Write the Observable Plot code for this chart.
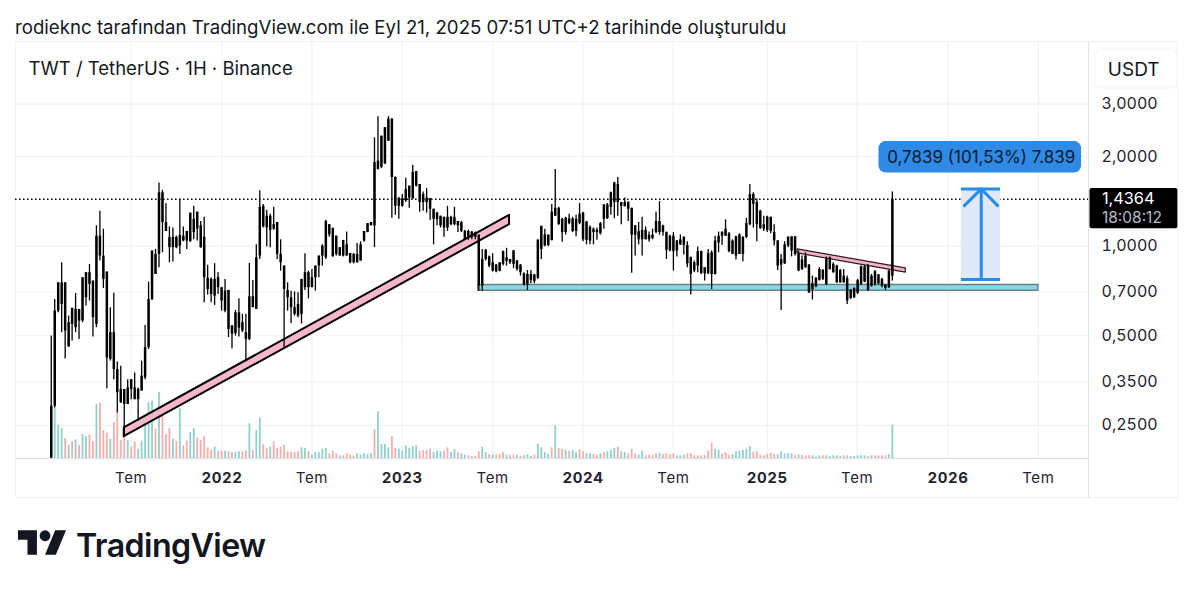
<!DOCTYPE html>
<html lang="tr">
<head>
<meta charset="utf-8">
<title>TWT / TetherUS</title>
<script src="https://cdn.jsdelivr.net/npm/d3@7"></script>
<script src="https://cdn.jsdelivr.net/npm/@observablehq/plot@0.6"></script>
<style>
  html,body{margin:0;padding:0;background:#fff;width:1200px;height:592px;overflow:hidden;font-family:Inter,"Noto Sans",sans-serif;}
  #title{height:41px;box-sizing:border-box;padding:16px 0 0 15px;font-size:18.67px;line-height:24px;color:#131722;white-space:nowrap;}
  #chart{position:relative;width:1200px;height:457px;}
  #chart svg{position:absolute;left:0;top:0;}
  #box{position:absolute;left:15px;top:0;width:1163px;height:457px;box-sizing:border-box;border:1px solid #f0f3fa;}
  #divider{position:absolute;left:1088px;top:0;width:1px;height:457px;background:#e0e3eb;}
  #logo{position:relative;height:94px;}
  #logo svg{position:absolute;left:18px;top:32px;}
  #logo span{position:absolute;left:76px;top:27px;font-size:32.2px;line-height:42px;font-weight:600;letter-spacing:-0.6px;color:#131722;}
  #chart svg [aria-label="x-axis tick label"] text{letter-spacing:.6px;}
  #chart svg text.clock{letter-spacing:.6px;}
</style>
</head>
<body>
<div id="title">rodieknc tarafından TradingView.com ile Eyl 21, 2025 07:51 UTC+2 tarihinde oluşturuldu</div>
<div id="chart"><div id="box"></div><div id="divider"></div></div>
<div id="logo">
  <svg width="48" height="25" viewBox="0 4 35.5 18" fill="#131722"><path d="M14 22H7V11H0V4h14v18zM28 22h-8l7.5-18h8L28 22z"/><circle cx="20" cy="8" r="4"/></svg>
  <span>TradingView</span>
</div>
<script>
const highs = [.499,.662,.753,.879,.753,.582,.618,.693,.613,.783,.814,.868,.763,1.17,1.31,1.14,.818,.621,.695,.408,.395,.33,.356,.356,.375,.334,.411,.541,.757,.963,
.975,1.63,1.54,1.39,1.16,1.15,1.08,1.44,1.16,1.12,1.29,1.36,1.30,1.21,1.25,.863,.783,.873,.814,.725,.773,.71,.541,.608,.665,.59,.59,.875,.767,1.01,
1.535,1.38,1.32,1.28,1.35,1.20,1.05,.857,.753,.706,.702,.697,.773,.943,.824,.835,.857,.926,1.01,1.22,1.18,1.15,1.08,.988,1.045,1.115,.945,.945,1.02,1.035,
1.12,1.19,1.20,2.31,2.72,2.34,2.50,2.72,2.68,1.71,1.45,1.49,1.69,1.59,1.87,1.78,1.61,1.52,1.56,1.445,1.33,1.30,1.26,1.25,1.36,1.26,1.35,1.21,1.21,1.13,
1.13,1.12,1.115,1.09,.975,.975,.926,.943,.868,.879,.963,.983,.902,.968,.895,.868,.814,.828,.828,.803,1.05,1.165,1.14,1.09,1.38,1.81,1.35,1.24,1.25,1.28,
1.25,1.27,1.39,1.30,1.21,1.17,1.15,1.15,1.20,1.38,1.39,1.52,1.64,1.70,1.40,1.45,1.41,1.34,1.17,1.20,1.25,1.16,1.115,1.14,1.30,1.41,1.175,1.115,1.088,1.11,
1.045,1.09,1.075,1.035,.92,.891,.993,.963,.846,.975,.963,1.08,1.115,1.12,1.225,1.11,1.05,1.08,1.10,1.075,1.24,1.61,1.51,1.44,1.32,1.26,1.26,1.25,1.18,1.045,
.938,1.035,1.075,1.075,1.075,.963,.926,.95,.868,.793,.783,.846,.835,.92,.92,.879,.863,.835,.835,.793,.715,.725,.773,.857,.86,.868,.803,.828,.803,.78,
.744,.828,1.52];
const lows = [.194,.286,.597,.512,.418,.458,.48,.512,.486,.553,.629,.654,.495,.532,.891,.721,.332,.411,.356,.275,.296,.23,.294,.305,.305,.258,.326,.356,.45,.657,
.803,.846,.95,1.12,.879,.884,.98,.938,1.035,.975,1.03,1.05,1.04,.983,.645,.685,.645,.632,.688,.605,.597,.493,.452,.499,.495,.512,.409,.482,.621,.613,
.902,1.15,.995,.988,1.13,.902,.824,.456,.605,.55,.582,.575,.548,.71,.665,.725,.706,.783,.857,.902,1.07,.92,.926,.926,.92,.926,.872,.872,.877,.891,
1.03,1.11,1.17,.988,1.80,1.82,1.88,2.25,1.24,1.27,1.23,1.35,1.40,1.34,1.44,1.58,1.30,1.31,1.29,1.22,1.01,1.17,1.15,1.07,1.12,1.17,1.17,1.11,1.11,1.047,
1.047,1.05,1.05,.706,.706,.891,.846,.818,.814,.82,.857,.857,.868,.84,.824,.793,.734,.71,.747,.747,.773,.902,.995,.995,1.04,1.26,1.175,1.03,1.09,1.18,
1.11,1.075,1.18,1.035,1.01,1.01,1.01,1.047,1.09,1.14,1.23,1.27,1.235,1.26,1.18,1.355,1.21,.81,.926,1.01,.926,1.05,1.03,1.05,1.10,1.088,1.08,.902,.958,.824,
.92,1.005,.933,.846,.685,.814,.814,.803,.763,.803,.715,.8,.95,1.005,1.08,.95,.938,.898,.938,.886,1.06,1.17,1.15,1.035,1.14,1.12,1.11,1.10,1.0,.828,
.608,.868,.988,.92,.926,.82,.828,.842,.693,.659,.725,.763,.767,.738,.83,.81,.75,.75,.75,.637,.662,.667,.688,.738,.753,.706,.728,.734,.74,.725,
.71,.721,.763];
const bodyTops = [.29,.605,.753,.753,.753,.553,.618,.613,.613,.783,.814,.814,.763,1.08,1.08,.926,.818,.512,.512,.385,.33,.33,.334,.356,.334,.33,.366,.456,.662,.963,
.938,1.51,1.51,1.20,1.07,1.07,1.07,1.085,1.08,1.12,1.29,1.23,1.30,1.17,1.07,.78,.773,.773,.783,.725,.706,.71,.539,.597,.597,.553,.512,.676,.676,.914,
1.35,1.36,1.26,1.26,1.18,1.20,.938,.857,.71,.671,.621,.637,.773,.814,.814,.783,.857,.926,1.0,1.21,1.18,1.145,1.08,.988,1.045,1.01,.945,.938,.938,1.01,
1.12,1.19,1.20,1.91,1.93,2.34,2.50,2.67,2.67,1.70,1.45,1.44,1.55,1.59,1.77,1.78,1.61,1.49,1.45,1.445,1.33,1.29,1.26,1.25,1.25,1.25,1.25,1.21,1.20,1.12,
1.12,1.115,1.11,1.088,.902,.968,.92,.879,.863,.879,.958,.914,.902,.963,.891,.863,.807,.803,.803,.8,1.047,1.165,1.09,1.088,1.30,1.34,1.34,1.23,1.24,1.235,
1.235,1.23,1.28,1.29,1.205,1.155,1.14,1.13,1.19,1.375,1.375,1.51,1.63,1.61,1.40,1.40,1.40,1.34,1.17,1.12,1.13,1.13,1.088,1.088,1.21,1.21,1.17,1.11,1.08,1.08,
1.04,1.05,1.07,1.005,.914,.879,.958,.958,.846,.943,.95,1.04,1.08,1.11,1.14,1.10,1.04,1.075,1.09,1.07,1.19,1.49,1.49,1.40,1.31,1.18,1.25,1.25,1.11,1.04,
.902,1.01,1.07,1.075,1.075,.938,.898,.926,.863,.747,.78,.835,.828,.902,.914,.868,.857,.828,.793,.777,.71,.72,.767,.852,.852,.857,.793,.82,.8,.773,
.738,.824,1.4364];
const bodyBottoms = [.194,.29,.605,.637,.519,.458,.546,.532,.56,.56,.671,.744,.575,.546,.926,.773,.421,.416,.385,.322,.298,.294,.294,.33,.305,.305,.326,.361,.456,.662,
.803,.938,1.20,1.12,.988,.988,.988,1.0,1.04,1.04,1.035,1.11,1.14,.988,.783,.715,.688,.679,.725,.654,.605,.525,.506,.508,.53,.519,.486,.486,.621,.613,
.926,1.16,1.15,1.13,1.14,.938,.879,.715,.671,.621,.59,.582,.59,.725,.725,.725,.783,.857,.926,.914,1.09,.92,.938,.926,.926,.926,.879,.879,.879,.891,
1.04,1.11,1.17,1.17,1.81,1.84,1.89,2.25,1.70,1.36,1.36,1.36,1.42,1.45,1.44,1.59,1.40,1.40,1.40,1.33,1.23,1.23,1.17,1.15,1.15,1.18,1.18,1.17,1.12,1.05,
1.07,1.07,1.07,.734,.734,.902,.857,.824,.82,.824,.868,.887,.879,.868,.835,.814,.74,.74,.767,.76,.78,.975,1.0,1.005,1.045,1.26,1.18,1.11,1.11,1.19,
1.12,1.12,1.19,1.05,1.045,1.04,1.11,1.11,1.10,1.23,1.235,1.35,1.40,1.40,1.36,1.355,1.33,1.088,1.088,1.05,1.05,1.05,1.05,1.06,1.11,1.11,1.11,.968,.963,.958,
.963,1.01,1.005,.872,.803,.824,.857,.807,.807,.807,.803,.803,1.025,1.08,1.08,.958,.938,.926,.938,.938,1.07,1.18,1.38,1.18,1.145,1.14,1.13,1.12,1.04,.857,
.863,.872,1.0,.963,.938,.824,.835,.846,.697,.715,.73,.767,.773,.744,.835,.814,.753,.753,.753,.654,.667,.671,.693,.744,.757,.71,.734,.744,.747,.734,
.721,.725,.793];
const volumes = [79,76,50,45,30,20,25,28,20,36,33,35,25,81,83,42,38,29,54,69,27,36,27,17,25,14,26,56,84,86,
44,99,64,36,45,29,26,75,19,26,39,45,31,27,33,16,12,17,11,11,11,10,9,9,10,10,12,52,12,42,
61,21,15,17,25,15,17,20,10,9,9,10,16,15,10,5,9,9,14,15,7,11,7,4,4,7,5,4,7,5,
7,6,7,43,70,21,21,16,33,15,14,11,19,15,18,19,11,12,12,14,9,11,10,11,16,9,13,9,7,5,
4,3,3,10,17,9,6,5,5,6,9,5,5,5,5,3,4,6,3,5,21,16,9,6,16,49,15,14,12,11,
12,9,13,10,7,7,6,5,7,9,10,12,15,17,10,9,7,14,7,5,11,4,5,5,7,8,6,7,6,7,
4,4,5,7,7,4,4,4,4,11,23,14,12,7,9,5,6,10,11,12,14,18,10,10,5,4,6,8,6,6,
10,7,7,7,5,5,5,4,4,4,2,4,4,4,3,4,4,3,4,4,3,3,4,4,4,3,4,4,4,4,
4,6,50];
const volumeSides = "ttttptptpt"+"tpptppptpp"+"pptppttttt"+"ptppptptpp"+"ttppppptpp"+"tppttpptpt"+"tpptpppppp"+"ppttpttttt"+"ppptpppptt"+"tttpttttpp"+
"ttttttpppp"+"tttppttptt"+"ppppttptpp"+"ptpptptttp"+"ttttptpptp"+"ttppttpptp"+"tttpttpppt"+"tpppptpppp"+"tttppppptp"+"pttppptttt"+
"ttpppppppt"+"ttttptpppt"+"ttpttttptp"+"tttttptppp"+"ptt";

const firstWeek = new Date(Date.UTC(2021,0,25));
const xDomain = [new Date("2020-11-14"), new Date("2026-10-15")];
const yDomain = [0.1935, 4.866];
const volumePaneTop = 0.324, volumeMax = 100;

const priceTicks = [3,2,1,0.7,0.5,0.35,0.25];
const yearTicks = ["2022-01-04","2023-01-02","2024-01-01","2025-01-06","2026-01-05"].map(d=>new Date(d));
const monthTicks = ["2021-07-05","2022-07-04","2023-07-03","2024-07-01","2025-07-06","2026-07-06"].map(d=>new Date(d));

const lastPrice = 1.4364;
const risingBand = [{x:new Date("2021-06-21"),y1:.229,y2:.245},{x:new Date("2023-08-06"),y1:1.18,y2:1.268}];
const fallingBand = [{x:new Date("2025-03-08"),y1:.945,y2:.975},{x:new Date("2025-10-12"),y1:.815,y2:.842}];
const supportZone = [{x1:new Date("2023-06-04"),x2:new Date("2026-07-06"),y1:.708,y2:.7404}];
const measureStart = new Date("2026-02-01"), measureEnd = new Date("2026-04-21"), measureMid = new Date("2026-03-13");
const measureLow = 0.7721, measureHigh = 1.556;

const candles = highs.map((h,i)=>({
  date:d3.utcDay.offset(firstWeek,7*i), high:h, low:lows[i], top:bodyTops[i], bottom:bodyBottoms[i],
  volume:volumes[i], up:volumeSides[i]==="t"
}));
const volumeY = v => yDomain[0]*Math.pow(volumePaneTop/yDomain[0], v/volumeMax);
const comma = d => d.toFixed(4).replace(".",",");
const font = "Inter, sans-serif";

const chart = Plot.plot({
  width:1200,height:457,marginTop:0,marginBottom:40,marginLeft:15,marginRight:112,
  style:{background:"transparent",fontFamily:font,overflow:"visible"},
  x:{type:"utc",domain:xDomain,axis:null},
  y:{type:"log",domain:yDomain,axis:null},
  marks:[
    Plot.gridX([...yearTicks,...monthTicks],{stroke:"#f0f2f7",strokeOpacity:1,strokeWidth:1.2}),
    Plot.gridY(priceTicks,{stroke:"#f0f2f7",strokeOpacity:1,strokeWidth:1.2}),
    Plot.ruleY([yDomain[0]],{stroke:"#dfe2e9",strokeWidth:1.5}),
    Plot.axisY(priceTicks,{anchor:"right",tickSize:0,tickPadding:13,tickFormat:comma,label:null,fontSize:16,fill:"#1f2430"}),
    Plot.axisX(monthTicks,{anchor:"bottom",tickSize:0,tickPadding:14,tickFormat:()=>"Tem",label:null,fontSize:15,fill:"#1f2430"}),
    Plot.axisX(yearTicks,{anchor:"bottom",tickSize:0,tickPadding:14,tickFormat:d3.utcFormat("%Y"),label:null,fontSize:15,fontWeight:700,fill:"#1f2430"}),
    Plot.ruleX(candles,{x:"date",y1:yDomain[0],y2:d=>volumeY(d.volume),stroke:d=>d.up?"#8fd0ca":"#f5aeac",strokeWidth:1.8}),
    Plot.rect(supportZone,{x1:"x1",x2:"x2",y1:"y1",y2:"y2",fill:"#86d8e4",stroke:"#6c7a80",strokeWidth:1.4}),
    Plot.areaY(risingBand,{x:"x",y1:"y1",y2:"y2",fill:"#f5b1c8",fillOpacity:0.92,stroke:"#000",strokeWidth:2}),
    Plot.areaY(fallingBand,{x:"x",y1:"y1",y2:"y2",fill:"#f5b1c8",stroke:"#2a1a22",strokeWidth:1.2}),
    Plot.ruleX(candles,{x:"date",y1:"low",y2:"high",stroke:"#000",strokeWidth:1.3}),
    Plot.ruleX(candles,{x:"date",y1:"bottom",y2:"top",stroke:"#000",strokeWidth:2.5}),
    Plot.ruleY([lastPrice],{stroke:"#111",strokeWidth:1.5,strokeDasharray:"1.6 2.4"}),
    Plot.text(["TWT / TetherUS · 1H · Binance"],{frameAnchor:"top-left",dx:13,dy:28,lineAnchor:"middle",fontSize:18.55,fill:"#131722",textAnchor:"start"}),
    Plot.rect([0],{x1:measureStart,x2:measureEnd,y1:measureLow,y2:measureHigh,fill:"#e1e9f9"}),
    Plot.ruleY([measureLow,measureHigh],{x1:measureStart,x2:measureEnd,stroke:"#2a8be6",strokeWidth:3}),
    Plot.ruleX([measureMid],{y1:measureLow,y2:measureHigh,stroke:"#2a8be6",strokeWidth:3}),
    Plot.line([[new Date("2026-02-07"),1.368],[measureMid,measureHigh],[new Date("2026-04-15"),1.368]],{stroke:"#2a8be6",strokeWidth:3,curve:"linear"}),
    Plot.rect([0],{x1:new Date("2025-08-19"),x2:new Date("2026-10-01"),y1:1.759,y2:2.244,rx:7,fill:"#2f8ae5"}),
    Plot.text(["0,7839 (101,53%) 7.839"],{x:measureMid,y:1.99,fontSize:17,fill:"#0e1a2b"}),
    Plot.rect([0],{x1:new Date("2026-10-28"),x2:new Date("2027-04-13"),y1:3.38,y2:4.57,rx:7,fill:"#fff",stroke:"#f0f3fa"}),
    Plot.text(["USDT"],{x:new Date("2027-01-14"),y:3.92,fontSize:19,fill:"#131722"}),
    Plot.rect([0],{x1:new Date("2026-10-18"),x2:new Date("2027-04-13"),y1:1.144,y2:1.56,rx:2,fill:"#000"}),
    Plot.text(["1,4364"],{x:new Date("2026-11-11"),y:lastPrice,textAnchor:"start",fontSize:16.3,fill:"#fff"}),
    Plot.text(["18:08:12"],{x:new Date("2026-11-11"),y:1.247,textAnchor:"start",fontSize:15.5,fill:"#b8bcc6",className:"clock"})
  ]
});
document.getElementById("chart").appendChild(chart);
</script>
</body>
</html>
